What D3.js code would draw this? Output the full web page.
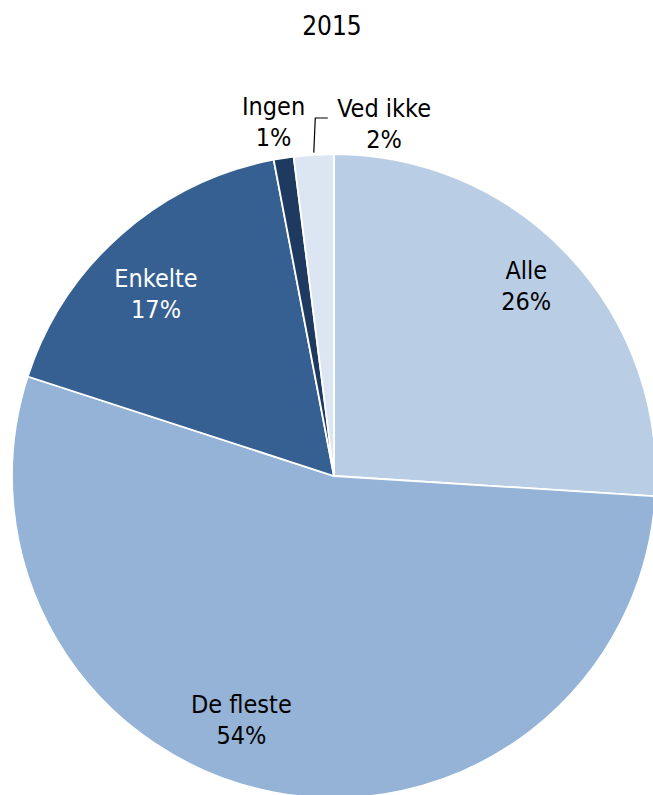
<!DOCTYPE html>
<html><head><meta charset="utf-8">
<script src="https://cdn.jsdelivr.net/npm/d3@7"></script>
<style>body{margin:0;background:#fff;}svg{display:block;font-family:"DejaVu Sans Condensed","DejaVu Sans",sans-serif;}</style>
</head><body>
<svg id="c" width="653" height="795"></svg>
<script>
const title = "2015";
const categories = ["Alle", "De fleste", "Enkelte", "Ingen", "Ved ikke"];
const values = [26, 54, 17, 1, 2];
const colors = ["#b9cde5", "#95b3d7", "#376092", "#1f3a60", "#dce6f2"];
const textColors = ["#000", "#000", "#fff", "#000", "#000"];

const svg = d3.select("#c");
const cx = 334, cy = 476, R = 322;
svg.append("text").attr("x", 332).attr("y", 35).attr("text-anchor", "middle")
  .attr("font-size", 26).text(title);

const pie = d3.pie().sort(null).value(d => d)(values);
const arc = d3.arc().innerRadius(0).outerRadius(R);
const g = svg.append("g").attr("transform", `translate(${cx},${cy})`);
g.selectAll("path").data(pie).join("path")
  .attr("d", arc).attr("fill", (d, i) => colors[i])
  .attr("stroke", "#fff").attr("stroke-width", 1.8);

// label placement: radius fraction and angular adjustment (degrees)
const labelLayout = [
  {r: 0.84, da: -1.5},
  {r: 0.81, da: 10},
  {r: 0.79, da: -3.0},
  {r: 1.115, da: -0.7},
  {r: 1.105, da: 11.7}
];
pie.forEach((d, i) => {
  const L = labelLayout[i];
  const a = ((d.startAngle + d.endAngle) / 2) + L.da * Math.PI / 180;
  const x = Math.sin(a) * R * L.r, y = -Math.cos(a) * R * L.r;
  const t = g.append("text").attr("text-anchor", "middle").attr("font-size", 25)
    .attr("fill", textColors[i]);
  t.append("tspan").attr("x", x).attr("y", y - 7).text(categories[i]);
  t.append("tspan").attr("x", x).attr("y", y + 24).text(values[i] + "%");
});
// leader line for "Ved ikke"
const vk = pie[4];
const am = (vk.startAngle + vk.endAngle) / 2;
const p0 = [Math.sin(am) * R, -Math.cos(am) * R];
g.append("path")
  .attr("d", `M${p0[0]},${p0[1] - 2}L${p0[0] + 1.5},${-358}L${p0[0] + 14},${-358}`)
  .attr("fill", "none").attr("stroke", "#000").attr("stroke-width", 1.2);
</script>
</body></html>
